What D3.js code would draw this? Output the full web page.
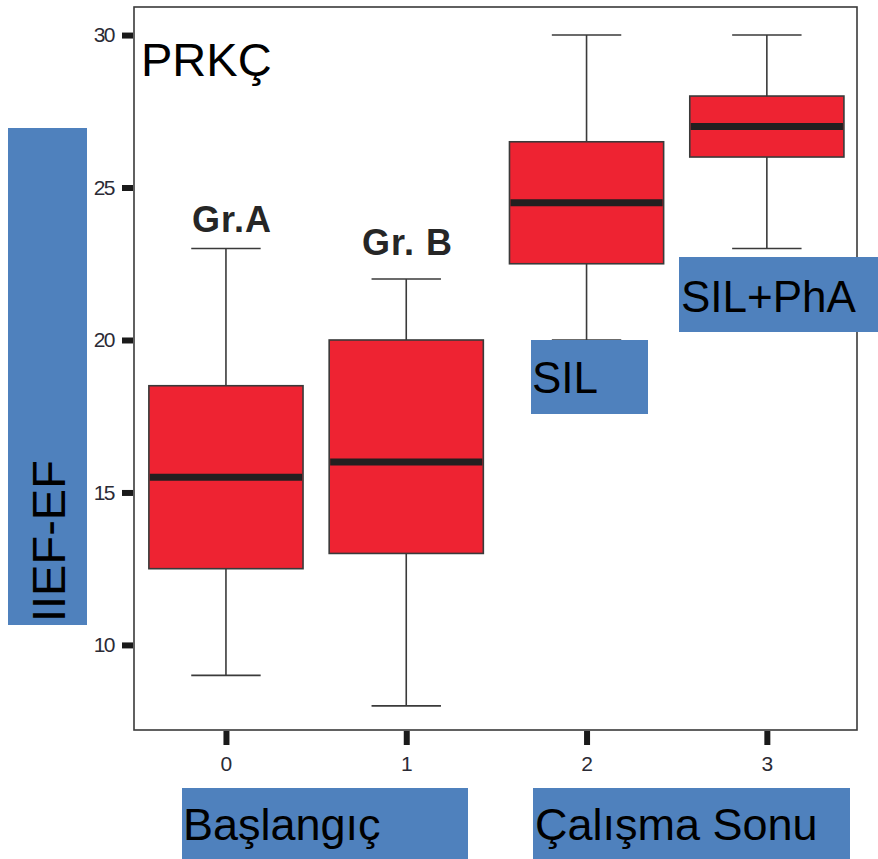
<!DOCTYPE html>
<html>
<head>
<meta charset="utf-8">
<script src="https://cdn.jsdelivr.net/npm/d3@7"></script>
<style>
	body { margin: 0; background: #fff; }
	text { font-family: "Liberation Sans", Arial, sans-serif; }
</style>
</head>
<body>
<div id="chart"></div>
<script>
//box plot values
var groups       = [0, 1, 2, 3]
var whiskerLow   = [9, 8, 20, 23]
var q1           = [12.5, 13, 22.5, 26]
var median       = [15.5, 16, 24.5, 27]
var q3           = [18.5, 20, 26.5, 28]
var whiskerHigh  = [23, 22, 30, 30]
var yTicks       = [10, 15, 20, 25, 30]

var width = 878, height = 859
var plot = {left: 134, top: 7, right: 857, bottom: 730}

var svg = d3.select('#chart')
			.append('svg')
			.attr('width', width)
			.attr('height', height)

var x = d3.scaleLinear()
		  .domain([-0.51, 3.5])
		  .range([plot.left, plot.right])

var y = d3.scaleLinear()
		  .domain([7.21, 30.92])
		  .range([plot.bottom, plot.top])

var boxW = 0.855, capW = 0.385

var boxes = groups.map(function(g, i){
	return {g: g, lo: whiskerLow[i], q1: q1[i], med: median[i], q3: q3[i], hi: whiskerHigh[i]}
})

//y axis
var yAxis = svg.append('g')
	.attr('transform', 'translate(' + (plot.left - 1) + ',0)')
	.call(d3.axisLeft(y).tickValues(yTicks).tickSize(11).tickPadding(8))
yAxis.select('.domain').remove()
yAxis.selectAll('line').attr('stroke', '#1a1a1a').attr('stroke-width', 6)
yAxis.selectAll('text')
	 .attr('font-size', '21px')
	 .attr('letter-spacing', '-1.5px')
	 .attr('fill', '#2b2b35')

//x axis
var xAxis = svg.append('g')
	.attr('transform', 'translate(0,' + (plot.bottom + 1) + ')')
	.call(d3.axisBottom(x).tickValues(groups).tickSize(14).tickPadding(11).tickFormat(d3.format('d')))
xAxis.select('.domain').remove()
xAxis.selectAll('line').attr('stroke', '#1a1a1a').attr('stroke-width', 6)
xAxis.selectAll('text')
	 .attr('font-size', '21px')
	 .attr('fill', '#2b2b35')

//frame
svg.append('rect')
   .attr('x', plot.left)
   .attr('y', plot.top)
   .attr('width', plot.right - plot.left)
   .attr('height', plot.bottom - plot.top)
   .attr('fill', 'none')
   .attr('stroke', '#3a3a3a')
   .attr('stroke-width', 1.6)

var bp = svg.selectAll('.bp')
	.data(boxes).enter()
	.append('g')
	.attr('class', 'bp')

//whiskers
bp.append('line')
  .attr('x1', function(d){ return x(d.g) })
  .attr('x2', function(d){ return x(d.g) })
  .attr('y1', function(d){ return y(d.lo) })
  .attr('y2', function(d){ return y(d.hi) })
  .attr('stroke', '#3a3a3a').attr('stroke-width', 1.6)

bp.selectAll('.cap')
  .data(function(d){ return [{g: d.g, v: d.lo}, {g: d.g, v: d.hi}] }).enter()
  .append('line')
  .attr('class', 'cap')
  .attr('x1', function(d){ return x(d.g - capW / 2) })
  .attr('x2', function(d){ return x(d.g + capW / 2) })
  .attr('y1', function(d){ return y(d.v) })
  .attr('y2', function(d){ return y(d.v) })
  .attr('stroke', '#3a3a3a').attr('stroke-width', 1.6)

//boxes
bp.append('rect')
  .attr('x', function(d){ return x(d.g - boxW / 2) })
  .attr('y', function(d){ return y(d.q3) })
  .attr('width', x(boxW) - x(0))
  .attr('height', function(d){ return y(d.q1) - y(d.q3) })
  .attr('fill', '#ee2332')
  .attr('stroke', '#3a3a3a')
  .attr('stroke-width', 1.6)

bp.append('line')
  .attr('x1', function(d){ return x(d.g - boxW / 2) + 1 })
  .attr('x2', function(d){ return x(d.g + boxW / 2) - 1 })
  .attr('y1', function(d){ return y(d.med) })
  .attr('y2', function(d){ return y(d.med) })
  .attr('stroke', '#231f20')
  .attr('stroke-width', 7)

//title inside plot
svg.append('text')
   .attr('x', 141).attr('y', 76)
   .attr('font-size', '47px')
   .attr('fill', '#000')
   .text('PRKÇ')

//group labels
svg.append('text')
   .attr('x', 192).attr('y', 232)
   .attr('font-size', '36px').attr('font-weight', 'bold')
   .attr('letter-spacing', '1px')
   .attr('fill', '#262626')
   .text('Gr.A')
svg.append('text')
   .attr('x', 362).attr('y', 255)
   .attr('font-size', '36px').attr('font-weight', 'bold')
   .attr('letter-spacing', '1px')
   .attr('fill', '#262626')
   .text('Gr. B')

//blue label boxes
var blue = '#4f81bd'
var labels = [
	{t: 'SIL',          bx: 531, by: 340, bw: 117, bh: 74,  tx: 532, ty: 393, fs: 44},
	{t: 'SIL+PhA',      bx: 679, by: 257, bw: 199, bh: 75,  tx: 681, ty: 312, fs: 44},
	{t: 'Başlangıç',    bx: 182, by: 788, bw: 286, bh: 71,  tx: 183, ty: 840, fs: 45},
	{t: 'Çalışma Sonu', bx: 533, by: 788, bw: 317, bh: 71,  tx: 535, ty: 840, fs: 45}
]
var lab = svg.selectAll('.lab')
	.data(labels).enter()
	.append('g').attr('class', 'lab')
lab.append('rect')
   .attr('x', function(d){ return d.bx })
   .attr('y', function(d){ return d.by })
   .attr('width', function(d){ return d.bw })
   .attr('height', function(d){ return d.bh })
   .attr('fill', blue)
lab.append('text')
   .attr('x', function(d){ return d.tx })
   .attr('y', function(d){ return d.ty })
   .attr('font-size', function(d){ return d.fs + 'px' })
   .attr('fill', '#000')
   .text(function(d){ return d.t })

//y axis title box
svg.append('rect')
   .attr('x', 8).attr('y', 128)
   .attr('width', 79).attr('height', 497)
   .attr('fill', blue)
svg.append('text')
   .attr('transform', 'translate(65,622) rotate(-90)')
   .attr('font-size', '47px')
   .attr('fill', '#000')
   .text('IIEF-EF')
</script>
</body>
</html>
